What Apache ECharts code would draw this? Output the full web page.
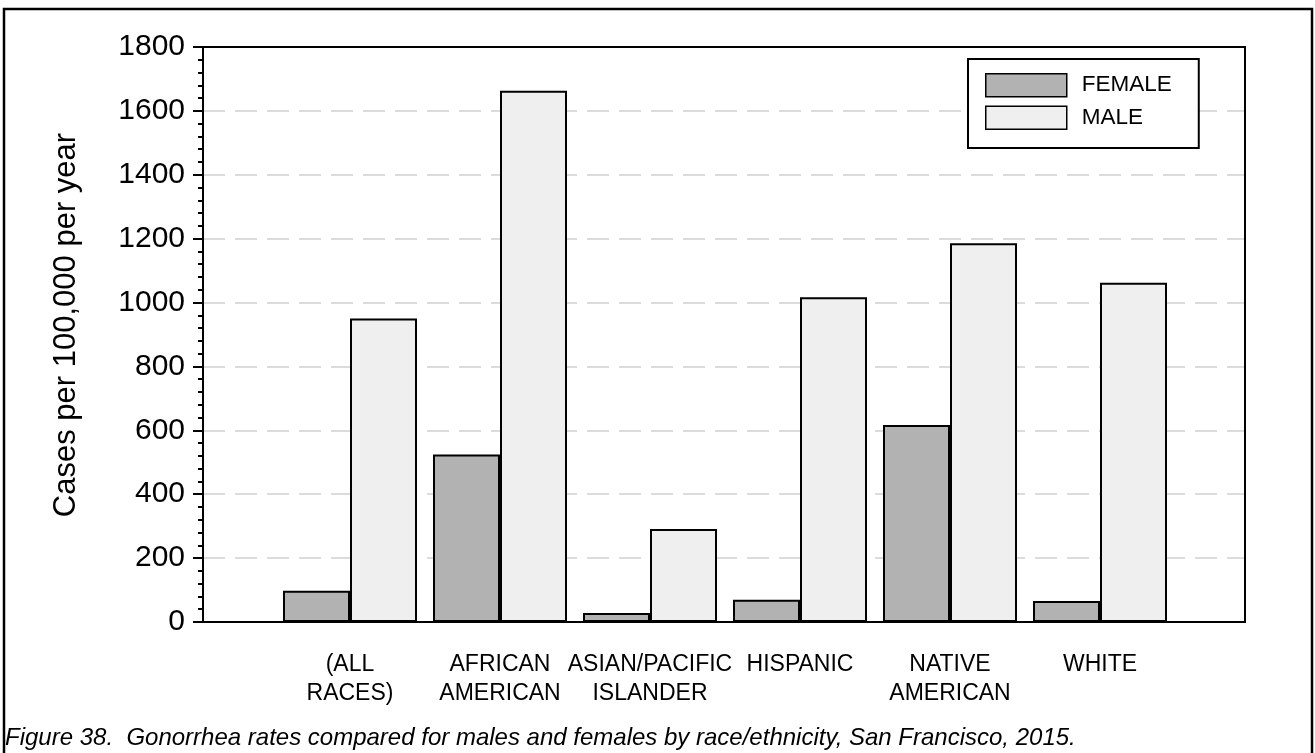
<!DOCTYPE html>
<html>
<head>
<meta charset="utf-8">
<script src="https://cdn.jsdelivr.net/npm/echarts@6/dist/echarts.min.js"></script>
<style>
html,body{margin:0;padding:0;background:#fff;}
#chart{width:1315px;height:753px;}
</style>
</head>
<body>
<div id="chart"></div>
<script>
const categories = ['(ALL\nRACES)', 'AFRICAN\nAMERICAN', 'ASIAN/PACIFIC\nISLANDER', 'HISPANIC', 'NATIVE\nAMERICAN', 'WHITE'];
const femaleValues = [98, 524, 28, 70, 617, 66];
const maleValues = [950, 1663, 291, 1017, 1186, 1062];
const seriesNames = ['FEMALE', 'MALE'];
const yTicks = {min: 0, max: 1800, interval: 200};
const yAxisTitle = 'Cases per 100,000 per year';
const caption = 'Figure 38.  Gonorrhea rates compared for males and females by race/ethnicity, San Francisco, 2015.';

const FONT = '"Liberation Sans", Arial, sans-serif';
const chart = echarts.init(document.getElementById('chart'), null, {renderer: 'canvas'});

const PL = 203, PR = 1245, PT = 47, PB = 622;

chart.setOption({
  animation: false,
  backgroundColor: '#fff',
  grid: [
    {left: PL, right: 1315 - PR, top: PT, bottom: 753 - PB},
    {left: 275, right: 140, top: PT, bottom: 753 - PB}
  ],
  xAxis: [
    {gridIndex: 0, type: 'category', data: [''], show: false},
    {gridIndex: 1, type: 'category', data: categories,
      axisLine: {show: false}, axisTick: {show: false},
      axisLabel: {color: '#000', fontFamily: FONT, fontSize: 23, lineHeight: 29, margin: 28, interval: 0}}
  ],
  yAxis: [
    {gridIndex: 0, type: 'value', min: yTicks.min, max: yTicks.max, interval: yTicks.interval,
      axisLine: {show: true, lineStyle: {color: '#000', width: 2}},
      axisTick: {show: true, length: 10, lineStyle: {color: '#000', width: 2}},
      minorTick: {show: true, splitNumber: 5, length: 5, lineStyle: {color: '#000', width: 2}},
      axisLabel: {color: '#000', fontFamily: FONT, fontSize: 30, margin: 18, formatter: v => String(v)},
      splitLine: {show: true, lineStyle: {color: '#dcdcdc', width: 2, type: [22, 10]}}},
    {gridIndex: 1, type: 'value', min: yTicks.min, max: yTicks.max, interval: yTicks.interval, show: false, splitLine: {show: false}}
  ],
  legend: {
    orient: 'vertical', left: 968, top: 59,
    data: seriesNames,
    icon: 'rect', itemWidth: 81, itemHeight: 23, itemGap: 8,
    backgroundColor: '#fff', borderColor: '#000', borderWidth: 2,
    padding: [14, 27, 18, 17],
    itemStyle: {borderColor: '#000', borderWidth: 1.5},
    textStyle: {color: '#000', fontFamily: FONT, fontSize: 22.5, padding: [0, 0, 0, 10]}
  },
  series: [
    {name: seriesNames[0], type: 'bar', xAxisIndex: 1, yAxisIndex: 1, data: femaleValues,
      barWidth: 67, barGap: '0%', itemStyle: {color: '#b2b2b2', borderColor: '#000', borderWidth: 2}},
    {name: seriesNames[1], type: 'bar', xAxisIndex: 1, yAxisIndex: 1, data: maleValues,
      barWidth: 67, barGap: '0%', itemStyle: {color: '#efefef', borderColor: '#000', borderWidth: 2}}
  ],
  graphic: [
    {type: 'rect', shape: {x: PL, y: PT, width: PR - PL, height: PB - PT}, style: {fill: null, stroke: '#000', lineWidth: 2}, silent: true, z: 50},
    {type: 'rect', shape: {x: 4, y: 9, width: 1308, height: 800}, style: {fill: null, stroke: '#000', lineWidth: 2.5}, silent: true, z: 50},
    {type: 'text', x: 66, y: 325, rotation: Math.PI / 2,
      style: {text: yAxisTitle, fill: '#000', font: '31px ' + FONT, textAlign: 'center', textVerticalAlign: 'middle'}},
    {type: 'text', left: 5, top: 726,
      style: {text: caption, fill: '#000', font: 'italic 24px ' + FONT}}
  ]
});
</script>
</body>
</html>
